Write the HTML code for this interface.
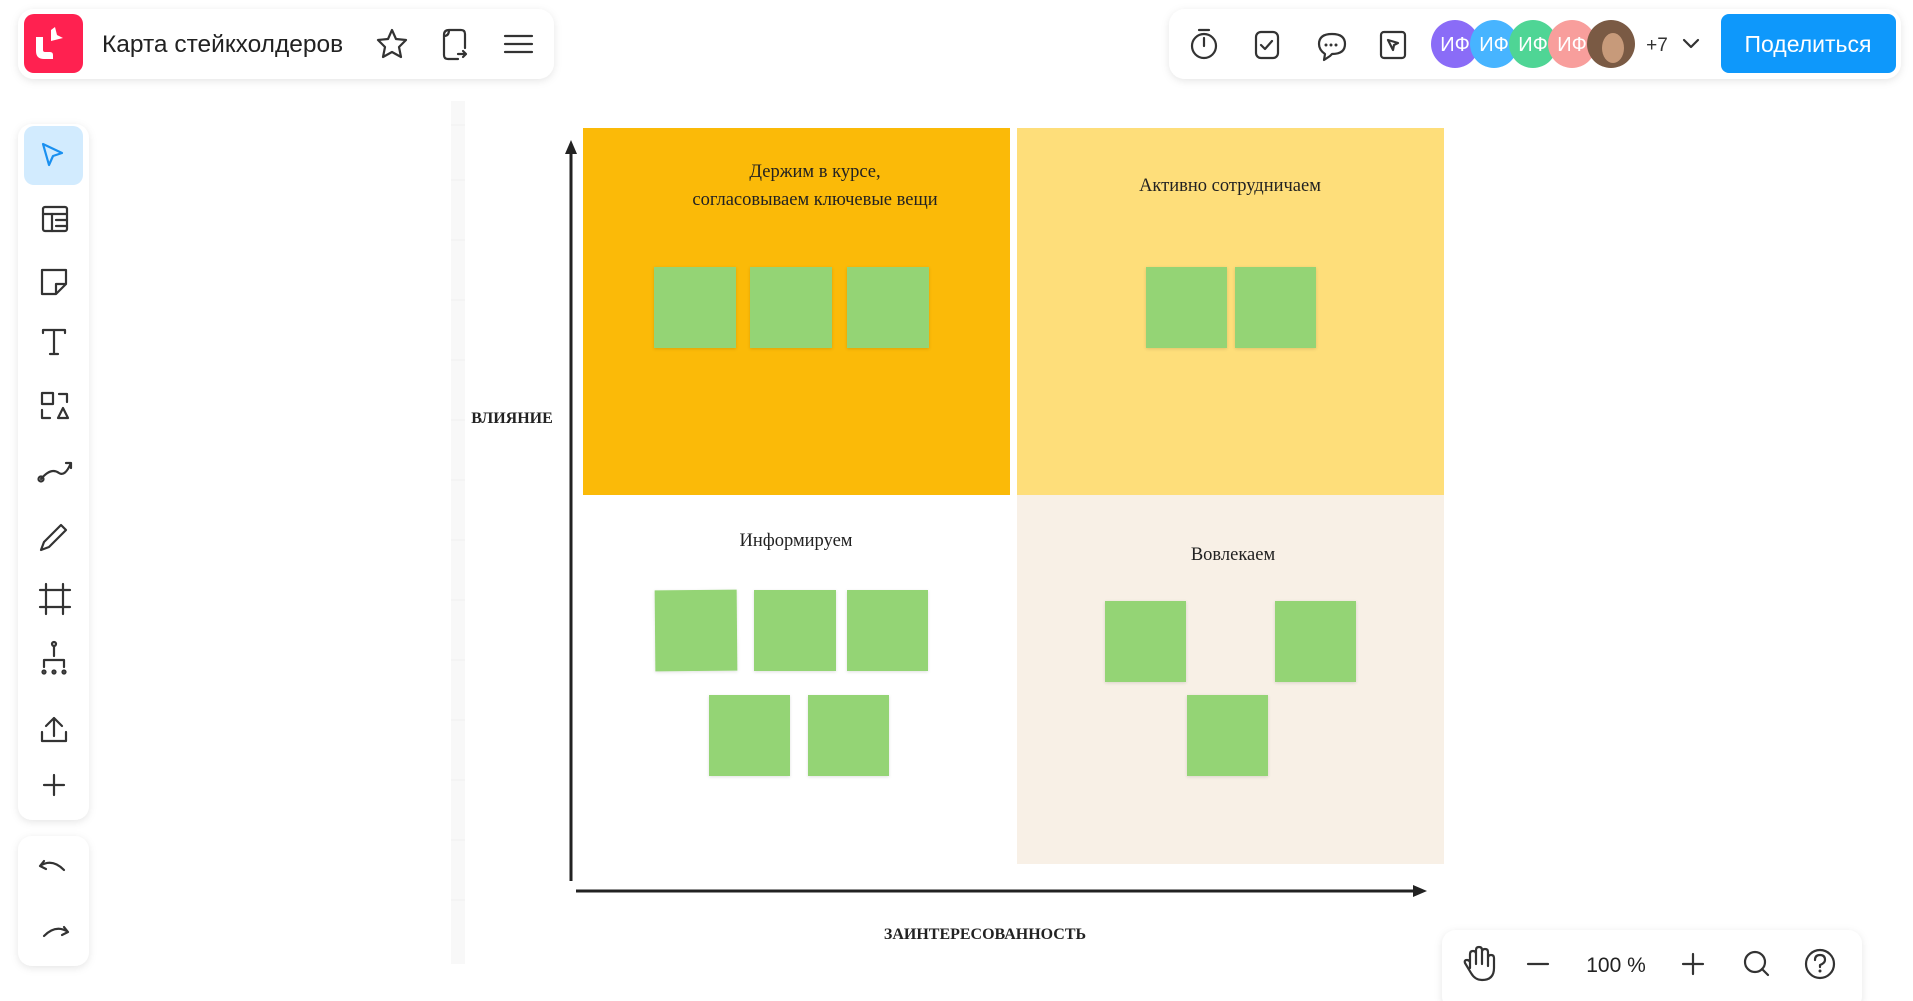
<!DOCTYPE html>
<html><head><meta charset="utf-8"><style>
html,body{margin:0;padding:0;width:1913px;height:1001px;overflow:hidden;background:#fff;font-family:"Liberation Sans","Noto Sans CJK SC",sans-serif}
svg{position:absolute;left:0;top:0}
</style></head><body>
<svg width="1913" height="1001" viewBox="0 0 1913 1001" xmlns="http://www.w3.org/2000/svg">
<defs>
<filter id="sh" x="-10%" y="-20%" width="120%" height="150%"><feDropShadow dx="0" dy="2" stdDeviation="4" flood-color="#000" flood-opacity="0.10"/></filter>
<filter id="sh2" x="-10%" y="-10%" width="120%" height="130%"><feDropShadow dx="0" dy="1" stdDeviation="1.5" flood-color="#000" flood-opacity="0.12"/></filter>
<clipPath id="av"><circle cx="1611" cy="44" r="24"/></clipPath>
</defs>
<rect x="451" y="101" width="14" height="863" fill="#f8f8f8"/>
<g stroke="#efefef" stroke-width="1">
<line x1="451" y1="125" x2="465" y2="125"/><line x1="451" y1="180" x2="465" y2="180"/><line x1="451" y1="240" x2="465" y2="240"/><line x1="451" y1="300" x2="465" y2="300"/><line x1="451" y1="360" x2="465" y2="360"/><line x1="451" y1="420" x2="465" y2="420"/><line x1="451" y1="480" x2="465" y2="480"/><line x1="451" y1="540" x2="465" y2="540"/><line x1="451" y1="600" x2="465" y2="600"/><line x1="451" y1="660" x2="465" y2="660"/><line x1="451" y1="720" x2="465" y2="720"/><line x1="451" y1="780" x2="465" y2="780"/><line x1="451" y1="840" x2="465" y2="840"/><line x1="451" y1="900" x2="465" y2="900"/>
</g>
<rect x="583" y="128" width="427" height="367" fill="#fbba08"/>
<rect x="1017" y="128" width="427" height="367" fill="#fede7a"/>
<rect x="1017" y="495" width="427" height="369" fill="#f8f0e6"/>
<line x1="571" y1="150" x2="571" y2="881" stroke="#222" stroke-width="3"/>
<polygon points="571,140 565,154 577,154" fill="#222"/>
<line x1="576" y1="891" x2="1415" y2="891" stroke="#222" stroke-width="3"/>
<polygon points="1427,891 1413,885 1413,897" fill="#222"/>
<g font-family="'Liberation Serif','Noto Serif CJK SC',serif" fill="#222">
<text x="512" y="423" font-size="16" font-weight="bold" text-anchor="middle">ВЛИЯНИЕ</text>
<text x="985" y="939" font-size="16" font-weight="bold" text-anchor="middle">ЗАИНТЕРЕСОВАННОСТЬ</text>
<text x="815" y="177" font-size="18.5" text-anchor="middle">Держим в курсе,</text>
<text x="815" y="205" font-size="18.5" text-anchor="middle">согласовываем ключевые вещи</text>
<text x="1230" y="191" font-size="18.5" text-anchor="middle">Активно сотрудничаем</text>
<text x="796" y="546" font-size="18.5" text-anchor="middle">Информируем</text>
<text x="1233" y="560" font-size="18.5" text-anchor="middle">Вовлекаем</text>
</g>
<g fill="#94d475" filter="url(#sh2)">
<rect x="654" y="267" width="82" height="81"/><rect x="750" y="267" width="82" height="81"/><rect x="847" y="267" width="82" height="81"/>
<rect x="1146" y="267" width="81" height="81"/><rect x="1235" y="267" width="81" height="81"/>
<rect x="655" y="590" width="82" height="81" transform="rotate(-0.5 696 630)"/><rect x="754" y="590" width="82" height="81"/><rect x="847" y="590" width="81" height="81"/>
<rect x="709" y="695" width="81" height="81"/><rect x="808" y="695" width="81" height="81"/>
<rect x="1105" y="601" width="81" height="81"/><rect x="1275" y="601" width="81" height="81"/><rect x="1187" y="695" width="81" height="81"/>
</g>
<rect x="18" y="9" width="536" height="70" rx="16" fill="#fff" filter="url(#sh)"/>
<rect x="24" y="14" width="59" height="59" rx="10" fill="#ff2150"/>
<path d="M36 37 v14 q0 8 8 8 h9 v-4 q0-3 -3-3 h-5 q-2 0 -2-2 v-13 z" fill="#fff"/>
<path d="M51 30 l4-3 l2 8 l6 3 l-12 3 z" fill="#fff"/>
<text x="102" y="52" font-size="24.5" fill="#222">Карта стейкхолдеров</text>
<g fill="none" stroke="#333" stroke-width="2.2" stroke-linecap="round" stroke-linejoin="round">
<path d="M392 30 l4 9 l10 1 l-7 7 l2 10 l-9-5 l-9 5 l2-10 l-7-7 l10-1 z"/>
<path d="M449 30 h12 q4 0 4 4 v14 M449 30 q-5 0 -5 5 v20 q0 4 4 4 h10 M444 36 q5 0 5-6 M458 54 h8 l-3-3 M466 54 l-3 3"/>
<line x1="505" y1="36" x2="532" y2="36"/><line x1="505" y1="44" x2="532" y2="44"/><line x1="505" y1="52" x2="532" y2="52"/>
</g>
<rect x="1169" y="9" width="732" height="70" rx="16" fill="#fff" filter="url(#sh)"/>
<g fill="none" stroke="#333" stroke-width="2.2" stroke-linecap="round" stroke-linejoin="round">
<circle cx="1204" cy="46" r="12"/><line x1="1204" y1="46" x2="1204" y2="38"/><line x1="1199" y1="30" x2="1209" y2="30"/>
<rect x="1256" y="32" width="22" height="26" rx="5"/><path d="M1261 45 l4 4 l7-8"/>
<path d="M1330 56 l-6 4 l1-6 q-6-4 -6-10 q0-10 13-10 q13 0 13 10 q0 10 -13 10 z"/>
<rect x="1381" y="32" width="24" height="26" rx="3"/><path d="M1388 40 l10 3 l-4 2 l-1 5 z"/>
<path d="M1684 40 l7 7 l7-7"/>
</g>
<circle cx="1326" cy="45" r="1.5" fill="#333"/><circle cx="1331" cy="45" r="1.5" fill="#333"/><circle cx="1336" cy="45" r="1.5" fill="#333"/>
<circle cx="1455" cy="44" r="24" fill="#8a6cf7"/>
<circle cx="1494" cy="44" r="24" fill="#47b4ff"/>
<circle cx="1533" cy="44" r="24" fill="#4fd595"/>
<circle cx="1572" cy="44" r="24" fill="#f89e9c"/>
<g font-size="20" fill="#fff" text-anchor="middle"><text x="1455" y="51">ИФ</text><text x="1494" y="51">ИФ</text><text x="1533" y="51">ИФ</text><text x="1572" y="51">ИФ</text></g>
<circle cx="1611" cy="44" r="24" fill="#7a5a44"/>
<ellipse cx="1613" cy="48" rx="11" ry="15" fill="#c79a7a" clip-path="url(#av)"/>
<text x="1657" y="51" font-size="19" fill="#333" text-anchor="middle">+7</text>
<rect x="1721" y="14" width="175" height="59" rx="8" fill="#0e98fb"/>
<text x="1808" y="52" font-size="23" fill="#fff" text-anchor="middle">Поделиться</text>
<rect x="18" y="124" width="71" height="696" rx="14" fill="#fff" filter="url(#sh)"/>
<rect x="24" y="126" width="59" height="59" rx="10" fill="#d2ebfe"/>
<path d="M43 144 l19 9 l-9 3 l-4 9 z" fill="none" stroke="#1a90f0" stroke-width="2.2" stroke-linejoin="round"/>
<g fill="none" stroke="#333" stroke-width="2.2" stroke-linecap="round" stroke-linejoin="round">
<rect x="43" y="207" width="24" height="24" rx="2"/><line x1="43" y1="214" x2="67" y2="214"/><line x1="52" y1="214" x2="52" y2="231"/><line x1="56" y1="220" x2="67" y2="220"/><line x1="56" y1="226" x2="67" y2="226"/>
<path d="M42 270 h24 v14 l-10 10 h-14 z M56 294 v-10 h10"/>
<path d="M43 333 v-3 h22 v3 M54 330 v24 M50 354 h8"/>
<rect x="42" y="393" width="11" height="11"/><path d="M59 394 h8 v8 M42 410 v8 h8 M58 418 l5-10 l5 10 z"/>
<path d="M41 479 q10 -12 18 -6 q6 4 12 -10 M66 463 h5 v5"/><circle cx="41" cy="479" r="2.5"/>
<path d="M44 542 l-3 8 l8 -3 l17 -17 l-5 -5 z"/>
<path d="M46 584 v30 M63 584 v30 M40 590 h30 M40 607 h30"/>
<path d="M54 646 v10 M44 667 v-7 h20 v7"/><circle cx="54" cy="644" r="2"/><circle cx="44" cy="672" r="1.5"/><circle cx="54" cy="672" r="1.5"/><circle cx="64" cy="672" r="1.5"/>
<path d="M54 736 v-18 M46 726 l8-8 l8 8 M42 732 v9 h24 v-9"/>
<path d="M54 775 v20 M44 785 h20"/>
</g>
<rect x="18" y="836" width="71" height="130" rx="14" fill="#fff" filter="url(#sh)"/>
<g fill="none" stroke="#333" stroke-width="2.2" stroke-linecap="round" stroke-linejoin="round">
<path d="M44 861 l-4 5 l6 3 M40 866 q12 -8 24 4"/>
<path d="M64 927 l4 5 l-6 3 M68 932 q-12 -8 -24 4"/>
</g>
<rect x="1442" y="930" width="420" height="80" rx="14" fill="#fff" filter="url(#sh)"/>
<g fill="none" stroke="#333" stroke-width="2.2" stroke-linecap="round" stroke-linejoin="round">
<path d="M1470 968 v-14 q0-3 3-3 q3 0 3 3 v10 v-14 q0-3 3-3 q3 0 3 3 v14 v-12 q0-3 3-3 q3 0 3 3 v14 v-8 q0-3 3-3 q3 0 3 3 v10 q0 12 -12 12 q-7 0 -11 -7 l-6 -10 q-1 -3 2 -3 q2 0 3 2 z"/>
<line x1="1528" y1="964" x2="1548" y2="964"/>
<line x1="1683" y1="964" x2="1703" y2="964"/><line x1="1693" y1="954" x2="1693" y2="974"/>
<circle cx="1755" cy="962" r="10"/><line x1="1762" y1="969" x2="1768" y2="975"/>
<circle cx="1820" cy="964" r="14"/><path d="M1815 960 q0-5 5-5 q5 0 5 5 q0 3 -5 5 v2"/>
</g>
<circle cx="1820" cy="971" r="1.5" fill="#333"/>
<text x="1616" y="972" font-size="21" fill="#222" text-anchor="middle">100 %</text>
</svg>
</body></html>
